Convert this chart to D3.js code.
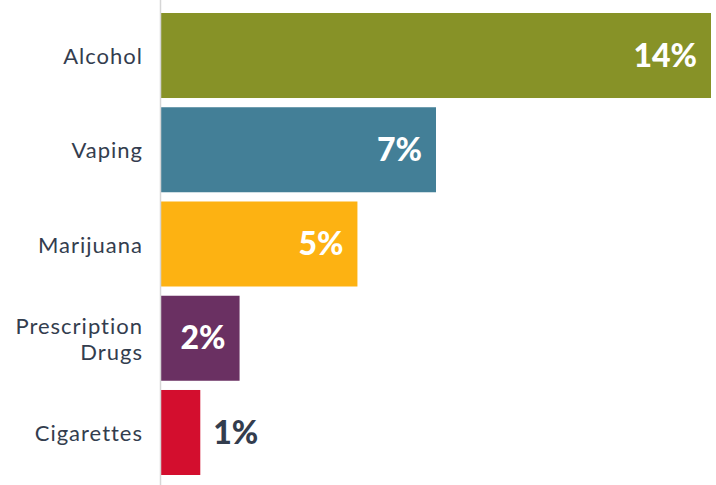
<!DOCTYPE html>
<html>
<head>
<meta charset="utf-8">
<script src="https://cdn.jsdelivr.net/npm/d3@7"></script>
<style>
  html, body { margin: 0; padding: 0; background: #fff; }
  svg { display: block; }
</style>
</head>
<body>
<div id="chart"></div>
<script>
// Share of respondents by substance
const categories = ["Alcohol", "Vaping", "Marijuana", "Prescription Drugs", "Cigarettes"];
const labelLines = [["Alcohol"], ["Vaping"], ["Marijuana"], ["Prescription", "Drugs"], ["Cigarettes"]];
const values = [14, 7, 5, 2, 1];
const colors = ["#879227", "#437f97", "#fdb212", "#6a3062", "#d30e2e"];

const width = 716, height = 485;
const textColor = "#333d4e";
const font = "Lato, 'Open Sans', sans-serif";

const svg = d3.select("#chart").append("svg")
  .attr("width", width).attr("height", height);

const x = d3.scaleLinear().domain([0, 14]).range([161, 711]);
const y = d3.scaleBand().domain(categories).range([13, 475]).paddingInner(0.098);

// bars
svg.selectAll("rect.bar").data(categories).join("rect")
  .attr("class", "bar")
  .attr("x", x(0))
  .attr("y", d => y(d))
  .attr("width", (d, i) => x(values[i]) - x(0))
  .attr("height", y.bandwidth())
  .attr("fill", (d, i) => colors[i]);

// vertical baseline
svg.append("line")
  .attr("x1", 160.5).attr("x2", 160.5)
  .attr("y1", 0).attr("y2", height)
  .attr("stroke", "#d6d6d6").attr("stroke-width", 1.5);

// category labels
const lineH = 26;
svg.selectAll("text.cat").data(categories).join("text")
  .attr("class", "cat")
  .attr("text-anchor", "end")
  .attr("font-family", font)
  .attr("font-size", 22)
  .attr("letter-spacing", "1px")
  .attr("fill", textColor)
  .each(function(d, i) {
    const lines = labelLines[i];
    const cy = y(d) + y.bandwidth() / 2 + 1;
    const start = cy - (lines.length - 1) * lineH / 2;
    d3.select(this).selectAll("tspan").data(lines).join("tspan")
      .attr("x", 143)
      .attr("y", (l, j) => start + j * lineH)
      .attr("dy", "0.35em")
      .text(l => l);
  });

// value labels: inside the bar when it fits, otherwise just past its end
svg.selectAll("text.val").data(categories).join("text")
  .attr("class", "val")
  .attr("font-family", font)
  .attr("font-weight", 900)
  .attr("font-size", 32)
  .attr("dy", "0.35em")
  .attr("y", d => y(d) + y.bandwidth() / 2)
  .each(function(d, i) {
    const inside = values[i] >= 2;
    d3.select(this)
      .attr("x", inside ? x(values[i]) - 14 : x(values[i]) + 13)
      .attr("text-anchor", inside ? "end" : "start")
      .attr("fill", inside ? "#ffffff" : textColor)
      .text(values[i] + "%");
  });
</script>
</body>
</html>
